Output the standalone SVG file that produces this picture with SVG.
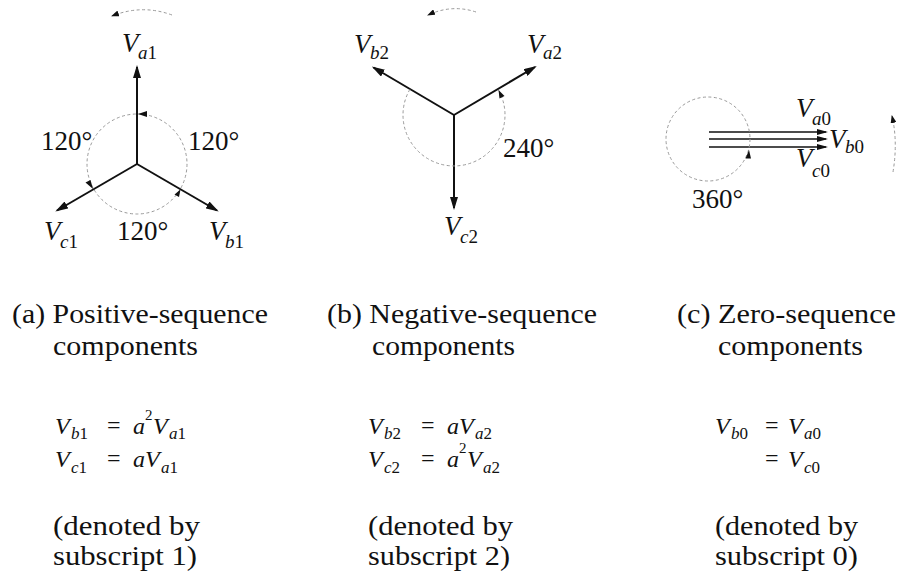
<svg xmlns="http://www.w3.org/2000/svg" width="898" height="578" viewBox="0 0 898 578">
<style>
text{font-family:"Liberation Serif","Times New Roman",Times,serif;fill:#111}
.v{font-size:27px;font-style:italic}
.s{font-size:19px;font-style:italic}
.d{font-style:normal}
.deg{font-size:27px}
.cap{font-size:28px}
.eq{font-size:24px;font-style:italic}
.es{font-size:17px;font-style:italic}
.eo{font-size:24px;font-style:normal}
.sup{font-size:15px;font-style:normal}
.ph{stroke:#111;stroke-width:2;fill:none;marker-end:url(#ah)}
.ph0{stroke:#111;stroke-width:1.5;fill:none;marker-end:url(#ah0)}
.dc{stroke:#9a9a9a;stroke-width:1;fill:none;stroke-dasharray:3 2.5}
.tip{fill:#111}
</style>
<defs>
<marker id="ah" markerWidth="13" markerHeight="8" refX="11" refY="4" orient="auto" markerUnits="userSpaceOnUse"><path d="M0,0 L13,4 L0,8 z" fill="#111"/></marker>
<marker id="ah0" markerWidth="11" markerHeight="6" refX="9" refY="3" orient="auto" markerUnits="userSpaceOnUse"><path d="M0,0 L11,3 L0,6 z" fill="#111"/></marker>
<marker id="ahs" markerWidth="8" markerHeight="6" refX="7" refY="3" orient="auto" markerUnits="userSpaceOnUse"><path d="M0,0 L8,3 L0,6 z" fill="#111"/></marker>
</defs>

<g id="connectors">
  <line class="ph" x1="137" y1="164" x2="137" y2="67"/>
  <line class="ph" x1="137" y1="164" x2="57" y2="210.5"/>
  <line class="ph" x1="137" y1="164" x2="217" y2="210.5"/>
  <line class="ph" x1="454" y1="115" x2="373.5" y2="67.5"/>
  <line class="ph" x1="454" y1="115" x2="535" y2="67"/>
  <line class="ph" x1="454" y1="115" x2="454" y2="208"/>
  <line class="ph0" x1="709" y1="132" x2="826" y2="132"/>
  <line class="ph0" x1="709" y1="139" x2="826" y2="139"/>
  <line class="ph0" x1="709" y1="147" x2="826" y2="147"/>
</g>

<g id="panel-a">
  <path class="dc" d="M172 15 Q142 4 112 16" marker-end="url(#ahs)"/>
  <circle class="dc" cx="137" cy="164" r="50"/>
  <polygon class="tip" points="138,114 147,111 147,117"/>
  <polygon class="tip" points="93,189 85.5,182.5 90.5,180"/>
  <polygon class="tip" points="180.5,189.5 179,197 174.5,194.5"/>
  <text class="v" x="122" y="52">V</text><text class="s" x="138" y="59">a<tspan class="d">1</tspan></text>
  <text class="v" x="44" y="240">V</text><text class="s" x="60" y="248">c<tspan class="d">1</tspan></text>
  <text class="v" x="209" y="240">V</text><text class="s" x="225" y="248">b<tspan class="d">1</tspan></text>
  <text class="deg" x="41" y="150">120°</text>
  <text class="deg" x="188" y="150">120°</text>
  <text class="deg" x="117" y="240">120°</text>
</g>

<g id="panel-b">
  <path class="dc" d="M476 12 Q452 4 428 15" marker-end="url(#ahs)"/>
  <path class="dc" d="M409.8 89.5 A51 51 0 1 0 498.2 89.5"/>
  <polygon class="tip" points="498.5,90 504.5,96 499.5,98.5"/>
  <text class="v" x="354" y="53">V</text><text class="s" x="370" y="59">b<tspan class="d">2</tspan></text>
  <text class="v" x="527" y="53">V</text><text class="s" x="543" y="59">a<tspan class="d">2</tspan></text>
  <text class="v" x="444" y="235">V</text><text class="s" x="460" y="243">c<tspan class="d">2</tspan></text>
  <text class="deg" x="503" y="157">240°</text>
</g>

<g id="panel-c">
  <circle class="dc" cx="708" cy="139" r="42"/>
  <polygon class="tip" points="749,150 745.5,158.5 751,158.5"/>
  <path class="dc" d="M893 172 Q898 142 892 116" marker-end="url(#ahs)"/>
  <text class="v" x="796" y="117">V</text><text class="s" x="812" y="125">a<tspan class="d">0</tspan></text>
  <text class="v" x="829" y="148">V</text><text class="s" x="845" y="153">b<tspan class="d">0</tspan></text>
  <text class="v" x="796" y="167">V</text><text class="s" x="812" y="177">c<tspan class="d">0</tspan></text>
  <text class="deg" x="692" y="208">360°</text>
</g>

<g id="caption-a">
  <text class="cap" x="12" y="323" textLength="256" lengthAdjust="spacingAndGlyphs">(a) Positive-sequence</text>
  <text class="cap" x="53" y="355" textLength="145" lengthAdjust="spacingAndGlyphs">components</text>
  <text class="eq" x="55" y="434">V</text><text class="es" x="71" y="439">b<tspan class="d">1</tspan></text>
  <text class="eo" x="107" y="433">=</text>
  <text class="eq" x="133" y="434">a</text><text class="sup" x="145" y="420">2</text>
  <text class="eq" x="153" y="434">V</text><text class="es" x="169" y="439">a<tspan class="d">1</tspan></text>
  <text class="eq" x="55" y="467">V</text><text class="es" x="71" y="473">c<tspan class="d">1</tspan></text>
  <text class="eo" x="107" y="466">=</text>
  <text class="eq" x="133" y="467">a</text>
  <text class="eq" x="145" y="467">V</text><text class="es" x="161" y="473">a<tspan class="d">1</tspan></text>
  <text class="cap" x="53" y="535" textLength="147" lengthAdjust="spacingAndGlyphs">(denoted by</text>
  <text class="cap" x="53" y="565" textLength="144" lengthAdjust="spacingAndGlyphs">subscript 1)</text>
</g>

<g id="caption-b">
  <text class="cap" x="327" y="323" textLength="270" lengthAdjust="spacingAndGlyphs">(b) Negative-sequence</text>
  <text class="cap" x="372" y="355" textLength="143" lengthAdjust="spacingAndGlyphs">components</text>
  <text class="eq" x="368" y="434">V</text><text class="es" x="384" y="439">b<tspan class="d">2</tspan></text>
  <text class="eo" x="421" y="433">=</text>
  <text class="eq" x="447" y="434">a</text>
  <text class="eq" x="459" y="434">V</text><text class="es" x="475" y="439">a<tspan class="d">2</tspan></text>
  <text class="eq" x="368" y="467">V</text><text class="es" x="384" y="473">c<tspan class="d">2</tspan></text>
  <text class="eo" x="421" y="466">=</text>
  <text class="eq" x="447" y="467">a</text><text class="sup" x="459" y="453">2</text>
  <text class="eq" x="467" y="467">V</text><text class="es" x="483" y="473">a<tspan class="d">2</tspan></text>
  <text class="cap" x="368" y="535" textLength="145" lengthAdjust="spacingAndGlyphs">(denoted by</text>
  <text class="cap" x="368" y="565" textLength="142" lengthAdjust="spacingAndGlyphs">subscript 2)</text>
</g>

<g id="caption-c">
  <text class="cap" x="677" y="323" textLength="219" lengthAdjust="spacingAndGlyphs">(c) Zero-sequence</text>
  <text class="cap" x="718" y="355" textLength="145" lengthAdjust="spacingAndGlyphs">components</text>
  <text class="eq" x="715" y="434">V</text><text class="es" x="731" y="439">b<tspan class="d">0</tspan></text>
  <text class="eo" x="765" y="433">=</text>
  <text class="eq" x="788" y="434">V</text><text class="es" x="804" y="439">a<tspan class="d">0</tspan></text>
  <text class="eo" x="765" y="466">=</text>
  <text class="eq" x="788" y="467">V</text><text class="es" x="804" y="473">c<tspan class="d">0</tspan></text>
  <text class="cap" x="715" y="535" textLength="143" lengthAdjust="spacingAndGlyphs">(denoted by</text>
  <text class="cap" x="715" y="565" textLength="143" lengthAdjust="spacingAndGlyphs">subscript 0)</text>
</g>
</svg>
